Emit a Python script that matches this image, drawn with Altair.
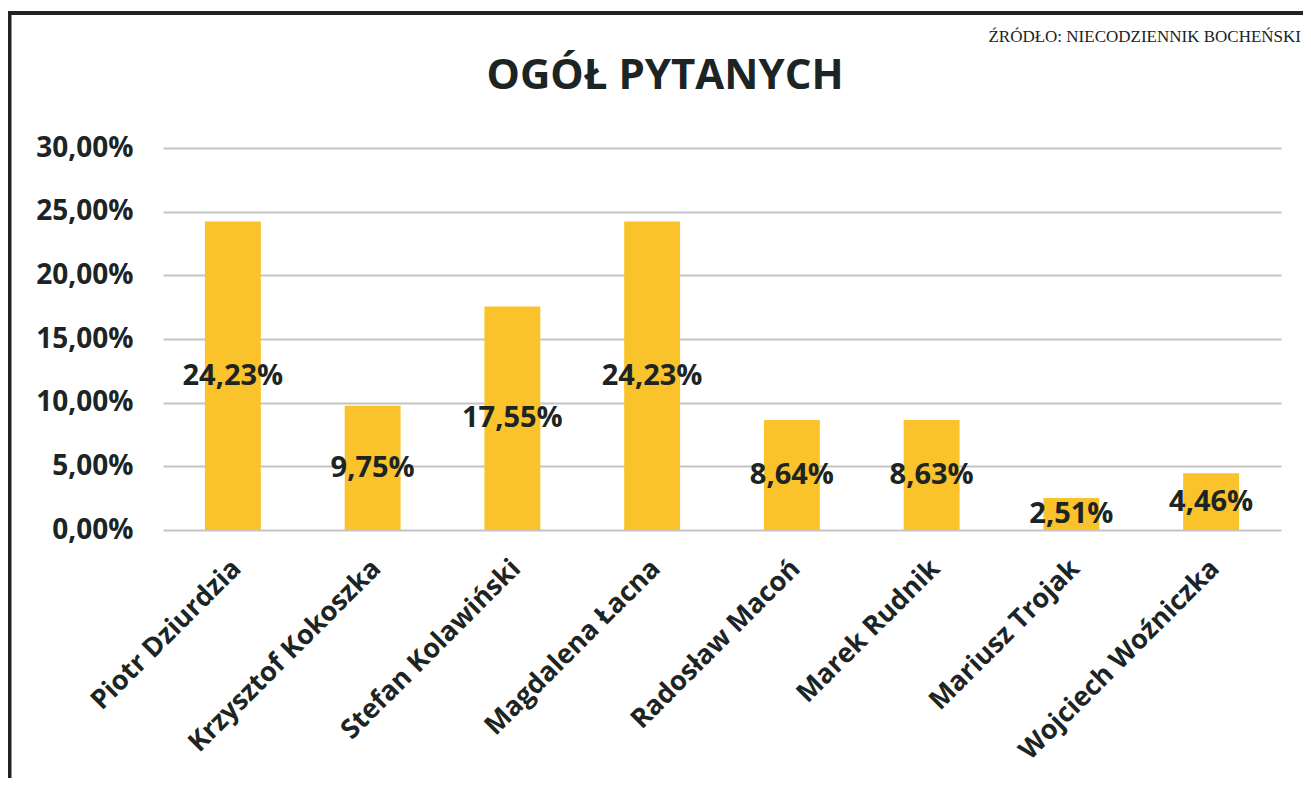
import altair as alt
import pandas as pd

names = ["Piotr Dziurdzia", "Krzysztof Kokoszka", "Stefan Kolawiński", "Magdalena Łacna",
         "Radosław Macoń", "Marek Rudnik", "Mariusz Trojak", "Wojciech Woźniczka"]
values = [24.23, 9.75, 17.55, 24.23, 8.64, 8.63, 2.51, 4.46]
y_ticks = [0, 5, 10, 15, 20, 25, 30]
title_text = "OGÓŁ PYTANYCH"
source_text = "ŹRÓDŁO: NIECODZIENNIK BOCHEŃSKI"

df = pd.DataFrame({"name": names, "value": values})
df["half"] = df["value"] / 2
df["label"] = [f"{v:.2f}".replace(".", ",") + "%" for v in values]

FONT = "Open Sans"
DARK = "#1c2424"
BAR = "#FAC22B"

x_enc = alt.X("name:N", sort=names, title=None,
              scale=alt.Scale(paddingInner=0.6, paddingOuter=0.3),
              axis=alt.Axis(labelAngle=-45, labelAlign="right", labelBaseline="middle",
                            labelFont=FONT, labelFontSize=27, labelFontWeight="bold",
                            labelColor=DARK, labelPadding=34, labelOffset=4, labelLimit=0,
                            ticks=False, domain=False, grid=False))

base = alt.Chart(df)

bars = base.mark_bar(color=BAR).encode(
    x=x_enc,
    y=alt.Y("value:Q", title=None,
            scale=alt.Scale(domain=[0, 30], nice=False),
            axis=alt.Axis(values=y_ticks, domain=False, ticks=False,
                          labelExpr="replace(format(datum.value, '.2f'), '.', ',') + '%'",
                          labelFont=FONT, labelFontSize=28, labelFontWeight="bold",
                          labelColor=DARK, labelPadding=30,
                          gridColor="#c4c4c4", gridWidth=2)),
)

labels = base.mark_text(font=FONT, fontSize=29, fontWeight="bold", color=DARK,
                        baseline="middle", align="center").encode(
    x=alt.X("name:N", sort=names),
    y=alt.Y("half:Q"),
    text="label:N",
)

one = pd.DataFrame({"t": [title_text], "s": [source_text]})

title = alt.Chart(one).mark_text(font=FONT, fontSize=42, fontWeight="bold", color=DARK,
                                 align="center", baseline="alphabetic").encode(
    x=alt.value(502), y=alt.value(-59), text="t:N")

source = alt.Chart(one).mark_text(font="Liberation Serif", fontSize=17, color="#222222",
                                  align="right", baseline="alphabetic").encode(
    x=alt.value(1138), y=alt.value(-106), text="s:N")

top_border = alt.Chart(one).mark_rule(color="#222222", strokeWidth=4).encode(
    x=alt.value(-156), x2=alt.value(1160), y=alt.value(-135))
left_border = alt.Chart(one).mark_rule(color="#222222", strokeWidth=4).encode(
    x=alt.value(-153.5), y=alt.value(-137), y2=alt.value(680))

chart = alt.layer(bars, labels, title, source, top_border, left_border).properties(
    width=1118, height=382,
    autosize=alt.AutoSizeParams(type="none"),
    padding={"left": 155, "top": 140, "right": 22, "bottom": 248},
    background="white",
).configure_view(stroke=None)

chart.save("out.html", embed_options={"renderer": "svg", "actions": False})
